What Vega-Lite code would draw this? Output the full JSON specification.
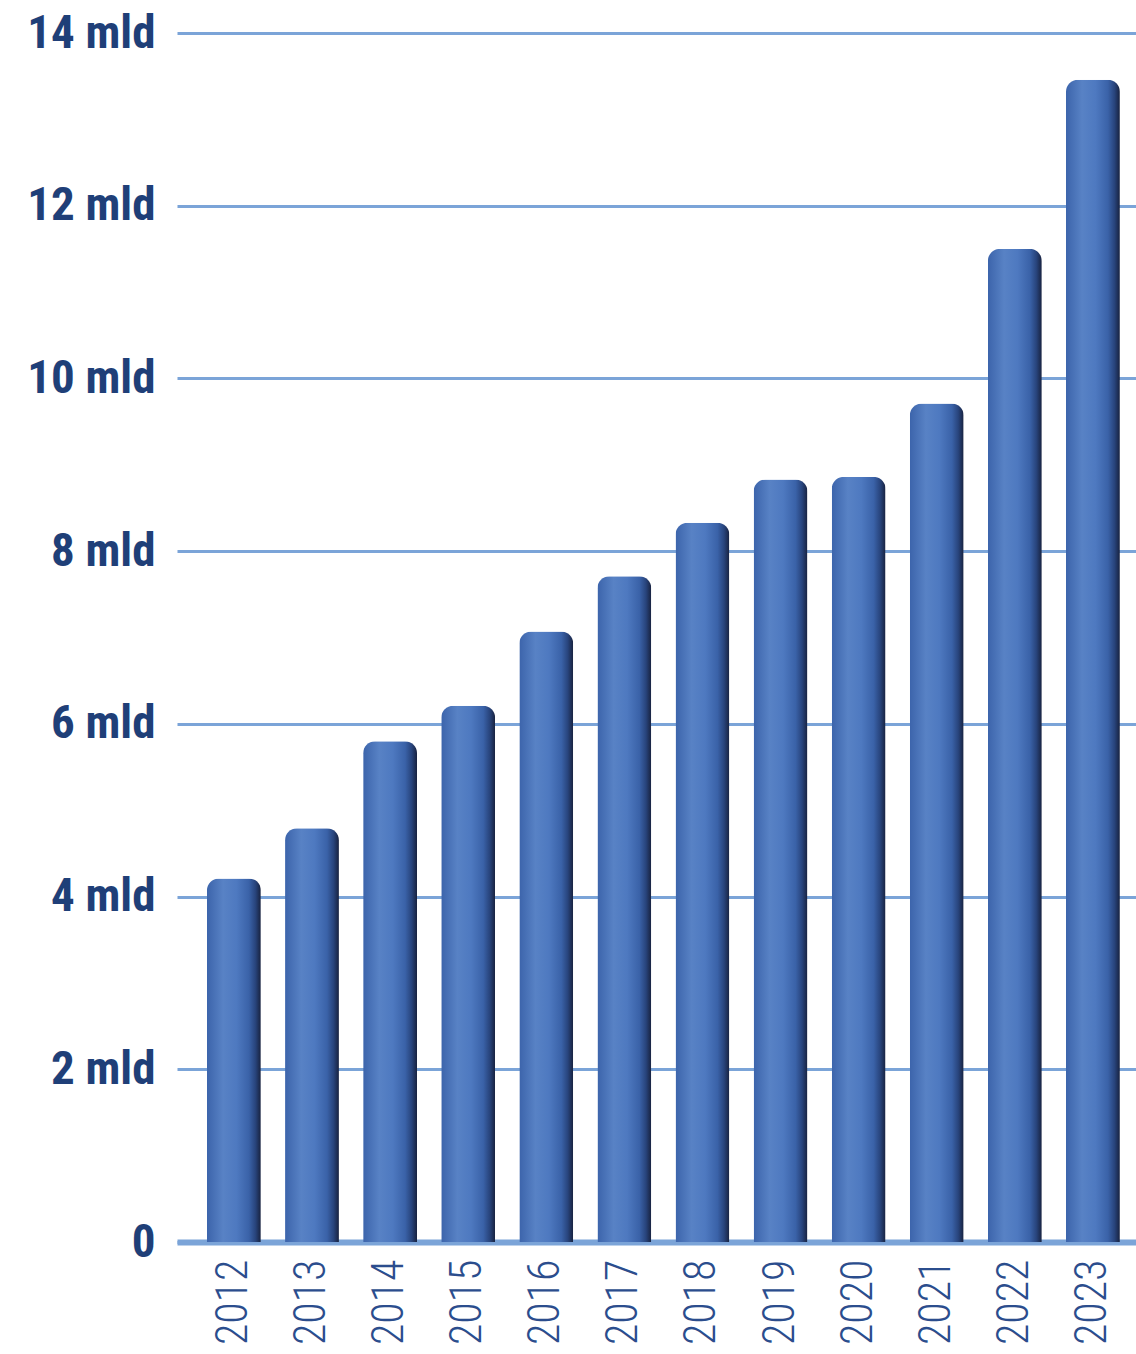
{
  "$schema": "https://vega.github.io/schema/vega-lite/v6.json",
  "autosize": {"type": "none"},
  "padding": {"left": 177, "top": 33, "right": 0, "bottom": 112},
  "width": 959,
  "height": 1209,
  "background": "#ffffff",
  "config": {"view": {"stroke": null}},
  "data": {
    "values": [
      {"year": "2012", "value": 4.21},
      {"year": "2013", "value": 4.79},
      {"year": "2014", "value": 5.80},
      {"year": "2015", "value": 6.21},
      {"year": "2016", "value": 7.07},
      {"year": "2017", "value": 7.71},
      {"year": "2018", "value": 8.33},
      {"year": "2019", "value": 8.83},
      {"year": "2020", "value": 8.86},
      {"year": "2021", "value": 9.71},
      {"year": "2022", "value": 11.50},
      {"year": "2023", "value": 13.46}
    ]
  },
  "mark": {
    "type": "bar",
    "cornerRadiusEnd": 12,
    "color": {
      "gradient": "linear",
      "x1": 0, "y1": 0, "x2": 1, "y2": 0,
      "stops": [
        {"offset": 0, "color": "#3c64ab"},
        {"offset": 0.3, "color": "#5882c5"},
        {"offset": 0.55, "color": "#4e79c0"},
        {"offset": 0.78, "color": "#3a62a8"},
        {"offset": 0.9, "color": "#28447c"},
        {"offset": 1, "color": "#18223f"}
      ]
    }
  },
  "encoding": {
    "x": {
      "field": "year",
      "type": "ordinal",
      "scale": {"paddingInner": 0.31, "paddingOuter": 0.295, "align": 0.65},
      "axis": {
        "title": null,
        "domain": true,
        "domainColor": "#7ba4d8",
        "domainWidth": 6,
        "ticks": false,
        "labelAngle": 270,
        "labelAlign": "right",
        "labelBaseline": "middle",
        "labelFont": "Roboto Condensed, Liberation Sans Narrow, Roboto",
        "labelFontSize": 44,
        "labelFontWeight": 300,
        "labelColor": "#2b4d8d",
        "labelPadding": 17
      }
    },
    "y": {
      "field": "value",
      "type": "quantitative",
      "scale": {"domain": [0, 14], "nice": false},
      "axis": {
        "title": null,
        "values": [0, 2, 4, 6, 8, 10, 12, 14],
        "labelExpr": "datum.value == 0 ? '0' : datum.value + ' mld'",
        "domain": false,
        "ticks": false,
        "grid": true,
        "gridColor": "#7ba4d8",
        "gridWidth": 3,
        "labelFont": "Roboto Condensed, Liberation Sans Narrow, Roboto",
        "labelFontSize": 47,
        "labelFontWeight": "bold",
        "labelColor": "#1f3f78",
        "labelPadding": 22,
        "labelBaseline": "middle"
      }
    }
  }
}
